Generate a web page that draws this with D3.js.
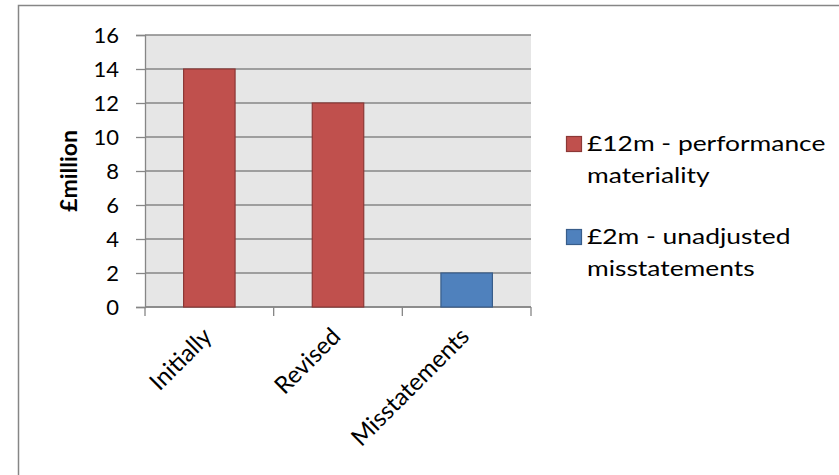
<!DOCTYPE html>
<html>
<head>
<meta charset="utf-8">
<script src="https://cdn.jsdelivr.net/npm/d3@7"></script>
<style>
  body { margin: 0; background: #fff; }
  svg text { font-family: Lato, "Open Sans", sans-serif; fill: #000; }
</style>
</head>
<body>
<div id="chart"></div>
<script>
const categories = ["Initially", "Revised", "Misstatements"];
const values = [14, 12, 2];
const barSeries = [0, 0, 1];
const seriesNames = [["£12m - performance", "materiality"], ["£2m - unadjusted", "misstatements"]];
const yTickValues = [0, 2, 4, 6, 8, 10, 12, 14, 16];
const yTitle = "£million";

const fills = ["#c0504d", "#4f81bd"];
const strokes = ["#8c3836", "#385d8a"];

const width = 839, height = 475;
const margin = { top: 35, right: 308, bottom: 168, left: 145 };
const plotW = width - margin.left - margin.right;
const plotH = height - margin.top - margin.bottom;

const svg = d3.select("#chart").append("svg")
  .attr("width", width)
  .attr("height", height);

// outer chart frame (runs off the right and bottom edges)
svg.append("rect")
  .attr("x", 18.5).attr("y", 5.5)
  .attr("width", 840).attr("height", 480)
  .attr("fill", "none")
  .attr("stroke", "#868686")
  .attr("stroke-width", 1.5);

const g = svg.append("g")
  .attr("transform", `translate(${margin.left},${margin.top})`);

const x = d3.scaleBand()
  .domain(categories)
  .range([0, plotW])
  .paddingInner(0.6)
  .paddingOuter(0.3);

const xStep = d3.scaleBand().domain(categories).range([0, plotW]).padding(0);

const y = d3.scaleLinear()
  .domain([0, 16])
  .range([plotH, 0]);

g.append("rect")
  .attr("width", plotW).attr("height", plotH)
  .attr("fill", "#e6e6e6");

// gridlines
g.append("g")
  .selectAll("line")
  .data(yTickValues)
  .join("line")
    .attr("x1", 0).attr("x2", plotW)
    .attr("y1", d => y(d)).attr("y2", d => y(d))
    .attr("stroke", "#868686")
    .attr("stroke-width", 1.3);

// y axis
const yAxis = g.append("g")
  .call(d3.axisLeft(y).tickValues(yTickValues).tickSize(9).tickPadding(17));
yAxis.select(".domain").attr("stroke", "#868686").attr("stroke-width", 1.3);
yAxis.selectAll(".tick line").attr("stroke", "#868686").attr("stroke-width", 1.3);
yAxis.selectAll("text").style("font-size", "22px").attr("dy", "0.36em");

// x axis: tick marks on category boundaries
const xAxis = g.append("g").attr("transform", `translate(0,${plotH})`);
xAxis.append("line")
  .attr("x1", 0).attr("x2", plotW)
  .attr("stroke", "#868686").attr("stroke-width", 1.3);
xAxis.selectAll("line.tk")
  .data(categories.concat([null]))
  .join("line")
    .attr("class", "tk")
    .attr("x1", (d, i) => i * xStep.step()).attr("x2", (d, i) => i * xStep.step())
    .attr("y1", 0).attr("y2", 9)
    .attr("stroke", "#868686").attr("stroke-width", 1.3);

xAxis.selectAll("text")
  .data(categories)
  .join("text")
    .attr("transform", d => `translate(${x(d) + x.bandwidth() / 2 + 4},${31}) rotate(-45)`)
    .attr("text-anchor", "end")
    .style("font-size", "24px")
    .text(d => d);

// bars
g.append("g")
  .selectAll("rect")
  .data(values)
  .join("rect")
    .attr("x", (d, i) => x(categories[i]))
    .attr("y", d => y(d))
    .attr("width", x.bandwidth())
    .attr("height", d => y(0) - y(d))
    .attr("fill", (d, i) => fills[barSeries[i]])
    .attr("stroke", (d, i) => strokes[barSeries[i]])
    .attr("stroke-width", 1.2);

// y title
svg.append("text")
  .attr("transform", `translate(77,${margin.top + plotH / 2}) rotate(-90)`)
  .attr("text-anchor", "middle")
  .style("font-size", "23px")
  .style("font-weight", "bold")
  .text(yTitle);

// legend (text is a little stretched sideways, like the source)
const legend = svg.append("g").attr("transform", "translate(566,136)");
const entry = legend.selectAll("g")
  .data(seriesNames)
  .join("g")
    .attr("transform", (d, i) => `translate(0,${i * 93})`);
entry.append("rect")
  .attr("width", 15).attr("height", 15)
  .attr("x", 0.5).attr("y", 0.5)
  .attr("fill", (d, i) => fills[i])
  .attr("stroke", (d, i) => strokes[i])
  .attr("stroke-width", 1.2);
entry.append("text")
  .attr("transform", "translate(21,0) scale(1.2,1)")
  .style("font-size", "22px")
  .selectAll("tspan")
  .data(d => d)
  .join("tspan")
    .attr("x", 0)
    .attr("y", (d, i) => 15 + i * 32)
    .text(d => d);
</script>
</body>
</html>
